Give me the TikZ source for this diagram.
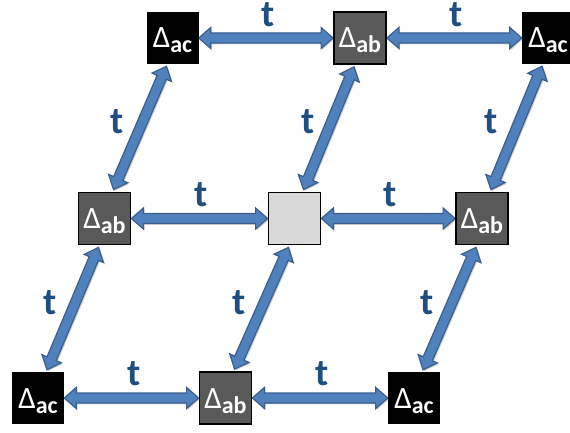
\documentclass[tikz,border=0pt]{standalone}
\usepackage{fontspec}
\setmainfont{Carlito}
\usetikzlibrary{calc,backgrounds}

\definecolor{arrowfill}{HTML}{4F81BD}
\definecolor{arrowline}{HTML}{3A5F8E}
\definecolor{labelblue}{HTML}{1F4E82}
\definecolor{boxgray}{HTML}{595959}
\definecolor{boxlight}{HTML}{D9D9D9}

\tikzset{
  cell/.style={rectangle, minimum width=52pt, minimum height=52pt, inner sep=0pt,
    text=white, font=\bfseries, text height=24pt, text depth=4pt},
  acbox/.style={cell, fill=black},
  abbox/.style={cell, fill=boxgray, draw=black, line width=1.8pt},
  emptybox/.style={cell, fill=boxlight, draw=black, line width=1.8pt},
  hop/.style={font=\fontsize{38}{38}\selectfont\bfseries, text=labelblue, inner sep=0pt},
  fatarrow/.style={fill=arrowfill, draw=arrowline, line width=1.2pt, line join=miter,
    preaction={fill=black, fill opacity=0.18, draw=none,
      transform canvas={xshift=1.3pt, yshift=-1.3pt}}},
}

% Delta with a lowered bold subscript
\newcommand\gap[1]{{\fontsize{31}{31}\selectfont\mdseries Δ}\raisebox{-5pt}{\fontsize{24}{24}\selectfont #1}}

% Block double arrow between two points
\newcommand\linkarrow[2]{%
  \coordinate (la) at (#1);
  \coordinate (lb) at (#2);
  \coordinate (lp) at ($(la)!12pt!(lb)$);
  \coordinate (lq) at ($(lb)!12pt!(la)$);
  \draw[fatarrow] (la) -- ($(lp)!10.5pt!90:(lb)$) -- ($(lp)!5pt!90:(lb)$)
    -- ($(lq)!5pt!-90:(la)$) -- ($(lq)!10.5pt!-90:(la)$) -- (lb)
    -- ($(lq)!10.5pt!90:(la)$) -- ($(lq)!5pt!90:(la)$)
    -- ($(lp)!5pt!-90:(lb)$) -- ($(lp)!10.5pt!-90:(lb)$) -- cycle;
}

\begin{document}
\begin{tikzpicture}[x=1pt,y=1pt]
\useasboundingbox (0,0) rectangle (570,432);

% lattice sites
\node[acbox]    (tl) at (172.5,394)   {\gap{ac}};
\node[abbox]    (tm) at (360,394)     {\gap{ab}};
\node[acbox]    (tr) at (548,394)     {\gap{ac}};
\node[abbox]    (ml) at (104.5,213.5) {\gap{ab}};
\node[emptybox] (mc) at (294.5,213.5) {};
\node[abbox]    (mr) at (482,213.5)   {\gap{ab}};
\node[acbox]    (bl) at (38,34)       {\gap{ac}};
\node[abbox]    (bm) at (225.5,34)    {\gap{ab}};
\node[acbox]    (br) at (414,34)      {\gap{ac}};

% hopping arrows
\begin{scope}[on background layer]
  \linkarrow{tl.east}{tm.west}
  \linkarrow{tm.east}{tr.west}
  \linkarrow{ml.east}{mc.west}
  \linkarrow{mc.east}{mr.west}
  \linkarrow{bl.east}{bm.west}
  \linkarrow{bm.east}{br.west}
  \linkarrow{$(tl.south)+(-6,-2)$}{$(ml.north)+(9,2)$}
  \linkarrow{$(tm.south)+(-6,-2)$}{$(mc.north)+(9,2)$}
  \linkarrow{$(tr.south)+(-6,-2)$}{$(mr.north)+(9,2)$}
  \linkarrow{$(ml.south)+(-6,-2)$}{$(bl.north)+(9,2)$}
  \linkarrow{$(mc.south)+(-6,-2)$}{$(bm.north)+(9,2)$}
  \linkarrow{$(mr.south)+(-6,-2)$}{$(br.north)+(9,2)$}
\end{scope}

% hopping labels
\node[hop, anchor=base] (h1) at ($(tl)!0.5!(tm)+(2,11)$) {t};
\node[hop, anchor=base] (h2) at ($(tm)!0.5!(tr)+(2,11)$) {t};
\node[hop, anchor=base] (h3) at ($(ml)!0.5!(mc)+(2,12.5)$) {t};
\node[hop, anchor=base] (h4) at ($(mc)!0.5!(mr)+(2,12.5)$) {t};
\node[hop, anchor=base] (h5) at ($(bl)!0.5!(bm)+(2,12.5)$) {t};
\node[hop, anchor=base] (h6) at ($(bm)!0.5!(br)+(2,12.5)$) {t};
\node[hop] (h7)  at ($(tl.south)!0.5!(ml.north)+(-21,6)$) {t};
\node[hop] (h8)  at ($(tm.south)!0.5!(mc.north)+(-19,7)$) {t};
\node[hop] (h9)  at ($(tr.south)!0.5!(mr.north)+(-24,6)$) {t};
\node[hop] (h10) at ($(ml.south)!0.5!(bl.north)+(-21,6)$) {t};
\node[hop] (h11) at ($(mc.south)!0.5!(bm.north)+(-21,6)$) {t};
\node[hop] (h12) at ($(mr.south)!0.5!(br.north)+(-21,6)$) {t};
\end{tikzpicture}
\end{document}
